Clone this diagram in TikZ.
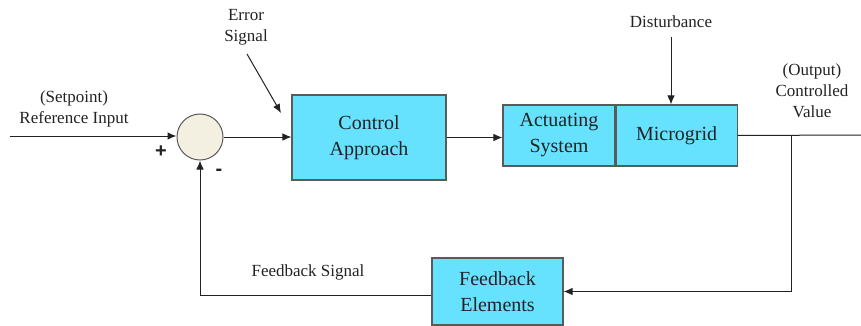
\documentclass[tikz,border=0pt]{standalone}
\usepackage{fontspec}
\setmainfont{Liberation Serif}
\newfontfamily\signfont{Liberation Sans}
\usetikzlibrary{arrows.meta,calc}
\definecolor{boxfill}{HTML}{66E2FF}
\definecolor{boxline}{HTML}{5A5A5A}
\definecolor{sumfill}{HTML}{F3EFE1}
\definecolor{ink}{HTML}{222222}
\tikzset{
  block/.style={draw=boxline, line width=1.1pt, fill=boxfill, align=center,
    font=\fontsize{20}{26}\selectfont, text=ink, inner sep=0pt},
  sumjunction/.style={circle, draw=boxline, line width=1pt, fill=sumfill, minimum size=46pt, inner sep=0pt},
  lbl/.style={align=center, font=\fontsize{17}{21}\selectfont, text=ink, inner sep=0pt},
  sgn/.style={font=\signfont\bfseries\fontsize{20}{20}\selectfont, text=ink, inner sep=0pt},
  wire/.style={draw=ink, line width=1pt},
  sig/.style={wire, -{Latex[length=9pt,width=7.5pt]}}
}
\begin{document}
\begin{tikzpicture}[x=1pt,y=-1pt]
\useasboundingbox (0,0) rectangle (861,326);

% blocks
\node[sumjunction] (sum) at (200,137) {};
\node[block, minimum width=154pt, minimum height=85pt] (ctrl) at (369,137.5) {Control\\Approach};
\node[block, minimum width=112pt, minimum height=61pt] (act) at (559,135.5) {Actuating\\System};
\node[block, minimum width=121pt, minimum height=61pt, anchor=west] (mg) at (act.east) {Microgrid};
\node[block, minimum width=131pt, minimum height=67pt] (fb) at (497.5,291.5) {Feedback\\Elements};

% labels
\node[lbl] (sp) at (74,109) {(Setpoint)\\Reference Input};
\node[lbl] (err) at (246,27) {Error\\Signal};
\node[lbl] (dist) at (671,22) {Disturbance};
\node[lbl] (outl) at (812,91) {(Output)\\Controlled\\Value};
\node[lbl] (fbs) at (308,272) {Feedback Signal};
\node[sgn] (plus) at (161,152) {+};
\node[sgn] (minus) at (219,172) {-};

% connector end points
\coordinate (in) at (10,136);
\coordinate (out) at (861,135);
\coordinate (tap) at (791,135);
\coordinate (errtail) at (247,54);
\coordinate (errhead) at (281,113);
\coordinate (disttail) at (671,37);
\coordinate (fbret) at ($(fb.west)+(0,4)$);

% signal path
\draw[sig] (in) -- (in -| sum.west);
\draw[sig] (sum.east) -- (sum.east -| ctrl.west);
\draw[sig] (ctrl.east) -- (ctrl.east -| act.west);
\draw[wire] (mg.east) -- (out);
\draw[sig] (disttail) -- (disttail |- mg.north);
\draw[sig] (errtail) -- (errhead);

% feedback loop
\draw[sig] (tap) |- (fb.east);
\draw[sig] (fbret) -| (sum.south);
\end{tikzpicture}
\end{document}
